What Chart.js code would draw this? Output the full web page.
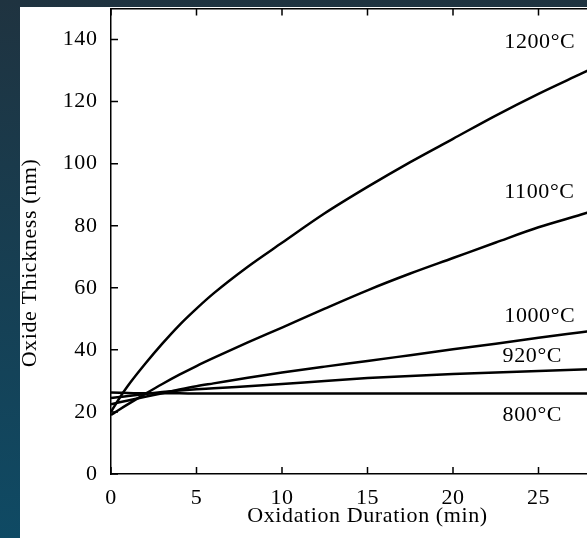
<!DOCTYPE html>
<html>
<head>
<meta charset="utf-8">
<script src="https://cdn.jsdelivr.net/npm/chart.js@4/dist/chart.umd.min.js"></script>
<style>
html, body { margin: 0; padding: 0; width: 587px; height: 538px; overflow: hidden;
  background: linear-gradient(#1f3340, #0f4a64); }
#panel { position: absolute; left: 20px; top: 7px; width: 620px; height: 531px; background: #fff; }
</style>
</head>
<body>
<div id="panel"><canvas id="oxide_chart" width="620" height="531"></canvas></div>
<script>
// oxidation time (min)
var times = [0, 0.5, 1, 2, 3, 4, 5, 6, 8, 10, 12.5, 15, 17.5, 20, 22.5, 25, 27.5, 30];

// oxide thickness (nm) per furnace temperature
var t1200 = [20, 24.5, 28.5, 35.5, 42, 48, 53.3, 58.2, 66.8, 74.5, 84, 92.5, 100.5, 108, 115.5, 122.5, 129, 135.5];
var t1100 = [19, 20.8, 22.5, 25.8, 29, 32, 34.8, 37.4, 42.4, 47.2, 53.3, 59.2, 64.6, 69.6, 74.6, 79.5, 83.6, 87.8];
var t1000 = [22.5, 23.1, 23.7, 24.9, 26, 27.2, 28.3, 29.2, 31, 32.7, 34.6, 36.4, 38.3, 40.2, 42, 43.9, 45.7, 47.5];
var t920 = [24.5, 24.8, 25.1, 25.8, 26.4, 26.9, 27.3, 27.6, 28.3, 29, 30, 30.9, 31.6, 32.2, 32.7, 33.2, 33.7, 34.2];
var t800 = [26.3, 26.2, 26.1, 26.0, 26.0, 26.0, 25.9, 25.9, 25.9, 25.9, 25.9, 25.9, 25.9, 25.9, 25.9, 25.9, 25.9, 25.9];

var seriesNames = ['1200°C', '1100°C', '1000°C', '920°C', '800°C'];
var seriesValues = [t1200, t1100, t1000, t920, t800];

var xTicks = [0, 5, 10, 15, 20, 25, 30];
var yTicks = [0, 20, 40, 60, 80, 100, 120, 140];

// where the temperature labels sit (data units, left edge / middle)
var labelSpots = [[23.0, 139], [23.0, 90.7], [23.0, 50.9], [22.9, 38.0], [22.9, 19.1]];

var serif = 'Liberation Serif, Times New Roman, serif';
var spacing = '0.6px';
Chart.defaults.font.family = serif;
Chart.defaults.color = '#000';

function points(vals) {
    return times.map(function (t, i) { return { x: t, y: vals[i] }; });
}

var datasets = seriesValues.map(function (vals, i) {
    return {
        label: seriesNames[i],
        data: points(vals),
        borderColor: '#000',
        borderWidth: 2.5,
        pointRadius: 0,
        fill: false,
        cubicInterpolationMode: 'monotone'
    };
});

// fixed box sizes, no extra label padding
function fixBox(w, h) {
    return function (s) {
        if (w !== null) s.width = w;
        if (h !== null) s.height = h;
        s.paddingTop = 0; s.paddingBottom = 0; s.paddingLeft = 0; s.paddingRight = 0;
    };
}

// the scanned figure has a wide serif face, so spread the letters a little
var wideText = {
    id: 'wideText',
    beforeDraw: function (chart) {
        chart.ctx.letterSpacing = spacing;
    }
};

// ticks point inward, drawn on the frame
var innerTicks = {
    id: 'innerTicks',
    afterDraw: function (chart) {
        var ctx = chart.ctx, a = chart.chartArea;
        var xs = chart.scales.x, ys = chart.scales.y;
        ctx.save();
        ctx.strokeStyle = '#000';
        ctx.lineWidth = 1.5;
        ctx.beginPath();
        yTicks.forEach(function (v) {
            var py = ys.getPixelForValue(v);
            ctx.moveTo(a.left, py);
            ctx.lineTo(a.left + 7, py);
        });
        xTicks.forEach(function (v) {
            var px = xs.getPixelForValue(v);
            ctx.moveTo(px, a.bottom);
            ctx.lineTo(px, a.bottom - 7);
            ctx.moveTo(px, a.top);
            ctx.lineTo(px, a.top + 7);
        });
        ctx.stroke();
        ctx.restore();
    }
};

// temperature labels and the rotated y title
var textLayer = {
    id: 'textLayer',
    afterDraw: function (chart) {
        var ctx = chart.ctx;
        var xs = chart.scales.x, ys = chart.scales.y;
        ctx.save();
        ctx.fillStyle = '#000';
        ctx.font = '22px ' + serif;
        ctx.letterSpacing = spacing;
        ctx.textAlign = 'left';
        ctx.textBaseline = 'middle';
        seriesNames.forEach(function (name, i) {
            ctx.fillText(name, xs.getPixelForValue(labelSpots[i][0]), ys.getPixelForValue(labelSpots[i][1]));
        });
        ctx.translate(10, 256);
        ctx.rotate(-Math.PI / 2);
        ctx.textAlign = 'center';
        ctx.fillText('Oxide Thickness (nm)', 0, 0);
        ctx.restore();
    }
};

new Chart(document.getElementById('oxide_chart'), {
    type: 'line',
    data: { datasets: datasets },
    plugins: [wideText, innerTicks, textLayer],
    options: {
        responsive: false,
        animation: false,
        layout: { padding: { left: 0, top: 1, right: 16, bottom: 0 } },
        plugins: {
            legend: { display: false },
            tooltip: { enabled: false }
        },
        scales: {
            x: {
                type: 'linear',
                position: 'bottom',
                min: 0,
                max: 30,
                afterBuildTicks: function (s) { s.ticks = xTicks.map(function (v) { return { value: v }; }); },
                afterFit: fixBox(null, 64),
                grid: { display: false, drawTicks: false },
                border: { display: true, color: '#000', width: 1.5 },
                ticks: { padding: 11, font: { size: 22 }, maxRotation: 0 },
                title: {
                    display: true,
                    text: 'Oxidation Duration (min)',
                    font: { size: 22 },
                    padding: { top: 0, bottom: 9 }
                }
            },
            xTop: {
                type: 'linear',
                position: 'top',
                min: 0,
                max: 30,
                afterFit: fixBox(null, 0.5),
                grid: { display: false, drawTicks: false },
                border: { display: true, color: '#000', width: 1.5 },
                ticks: { display: false }
            },
            y: {
                type: 'linear',
                min: 0,
                max: 150,
                afterBuildTicks: function (s) { s.ticks = yTicks.map(function (v) { return { value: v }; }); },
                afterFit: fixBox(91, null),
                grid: { display: false, drawTicks: false },
                border: { display: true, color: '#000', width: 1.5 },
                ticks: { padding: 13.5, font: { size: 22 } }
            }
        }
    }
});
</script>
</body>
</html>
